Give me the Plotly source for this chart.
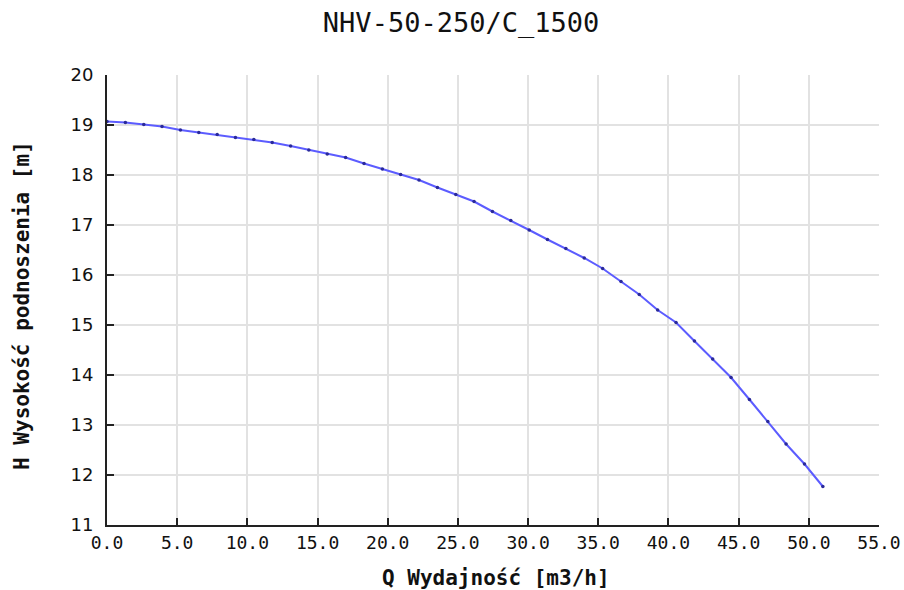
import plotly.graph_objects as go

# Flow Q [m3/h] and head H [m]
q_values = [0.00, 1.31, 2.62, 3.92, 5.23, 6.54, 7.85, 9.15, 10.46, 11.77,
            13.08, 14.38, 15.69, 17.00, 18.31, 19.62, 20.92, 22.23, 23.54, 24.85,
            26.15, 27.46, 28.77, 30.08, 31.38, 32.69, 34.00, 35.31, 36.62, 37.92,
            39.23, 40.54, 41.85, 43.15, 44.46, 45.77, 47.08, 48.38, 49.69, 51.00]
h_values = [19.07, 19.05, 19.01, 18.97, 18.90, 18.85, 18.81, 18.75, 18.71, 18.65,
            18.58, 18.50, 18.42, 18.35, 18.23, 18.12, 18.01, 17.90, 17.75, 17.61,
            17.47, 17.27, 17.09, 16.90, 16.71, 16.53, 16.34, 16.13, 15.87, 15.61,
            15.30, 15.05, 14.68, 14.32, 13.95, 13.51, 13.07, 12.62, 12.22, 11.77]

x_tick_vals = [0, 5, 10, 15, 20, 25, 30, 35, 40, 45, 50, 55]
x_tick_text = ["0.0", "5.0", "10.0", "15.0", "20.0", "25.0", "30.0", "35.0",
               "40.0", "45.0", "50.0", "55.0"]
y_tick_vals = [11, 12, 13, 14, 15, 16, 17, 18, 19, 20]

title_text = "NHV-50-250/C_1500"
x_title = "Q Wydajność [m3/h]"
y_title = "H Wysokość podnoszenia [m]"

fig = go.Figure()
fig.add_trace(go.Scatter(
    x=q_values, y=h_values, mode="lines+markers",
    line=dict(color="#5c5cff", width=2),
    marker=dict(color="#2a2a99", size=3.5),
    showlegend=False, hoverinfo="x+y",
))

mono = "DejaVu Sans Mono"
fig.update_layout(
    width=904, height=590,
    paper_bgcolor="white", plot_bgcolor="white",
    margin=dict(l=107, r=25, t=75, b=65, autoexpand=False),
    title=dict(text=title_text, x=0.51, xanchor="center", y=0.962, yanchor="middle",
               font=dict(family=mono, size=27, color="#111111")),
)
fig.update_xaxes(
    range=[0, 55], tickmode="array", tickvals=x_tick_vals, ticktext=x_tick_text,
    showline=True, linecolor="#222222", linewidth=2, mirror=False, automargin=False,
    ticks="inside", ticklen=7, tickwidth=2, tickcolor="#222222",
    showgrid=True, gridcolor="#e2e2e2", gridwidth=2, zeroline=False,
    tickfont=dict(family=mono, size=18, color="#111111"),
)
fig.update_yaxes(
    range=[11, 20], tickmode="array", tickvals=y_tick_vals,
    showline=True, linecolor="#222222", linewidth=2, mirror=False, automargin=False,
    ticks="inside", ticklen=7, tickwidth=2, tickcolor="#222222",
    showgrid=True, gridcolor="#e2e2e2", gridwidth=2, zeroline=False,
    ticklabelstandoff=8,
    tickfont=dict(family="DejaVu Sans", size=18, color="#111111"),
)
fig.add_annotation(
    text=x_title, xref="paper", yref="paper", x=0.504, y=-0.118,
    xanchor="center", yanchor="middle", showarrow=False,
    font=dict(family=mono, size=21, color="#111111", weight="bold"),
)
fig.add_annotation(
    text=y_title, xref="paper", yref="paper", x=-0.110, y=0.487,
    xanchor="center", yanchor="middle", showarrow=False, textangle=-90,
    font=dict(family=mono, size=21, color="#111111", weight="bold"),
)

fig.write_html("out.html", config={"displayModeBar": False},
               post_script="document.body.style.margin='0px';")
